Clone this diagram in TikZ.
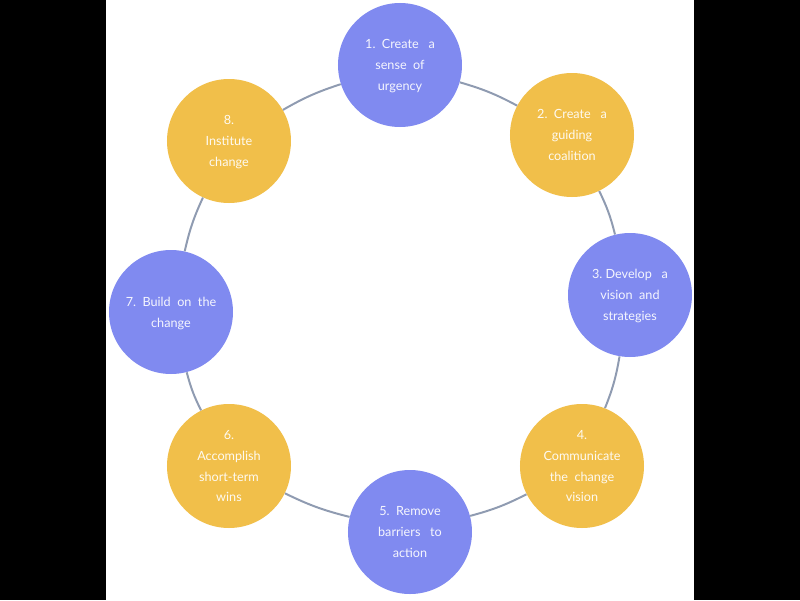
\documentclass[tikz,border=0pt]{standalone}
\usepackage{xcolor}
\usepackage{fontspec}
\setmainfont{Lato}
\usepackage{tikz}

\definecolor{stepblue}{HTML}{808AF0}
\definecolor{stepgold}{HTML}{F1BF4A}
\definecolor{ringgray}{HTML}{8F9BB1}

\begin{document}
\begin{tikzpicture}[
    stage/.style={circle, minimum size=3.1cm, inner sep=0pt, align=center, text=white,
                  text opacity=0.92, font=\fontsize{9}{14.9}\selectfont, text depth=-9pt},
    blue stage/.style={stage, fill=stepblue},
    gold stage/.style={stage, fill=stepgold},
    ring/.style={draw=ringgray, line width=1.4pt, bend left=6}
]
    \useasboundingbox (-10,-7.5) rectangle (10,7.5);
    \fill[black] (-10,-7.5) rectangle (10,7.5);
    \fill[white] (-7.35,-7.5) rectangle (7.35,7.5);

    \node[blue stage] (urg) at (0,5.875) {1.\ \ Create\ \ \ a\\sense\ \ of\\urgency};
    \node[gold stage] (coal) at (4.3,4.125) {2.\ \ Create\ \ \ a\\guiding\\coalition};
    \node[blue stage] (vis) at (5.75,0.125) {3.\ Develop\ \ \ a\\vision\ \ and\\strategies};
    \node[gold stage] (comm) at (4.55,-4.15) {4.\\Communicate\\the\ \ change\\vision};
    \node[blue stage] (barr) at (0.25,-5.8) {5.\ \ Remove\\barriers\ \ \ to\\action};
    \node[gold stage] (wins) at (-4.275,-4.15) {6.\\Accomplish\\short-term\\wins};
    \node[blue stage] (build) at (-5.725,-0.3) {7.\ \ Build\ \ on\ \ the\\change};
    \node[gold stage] (inst) at (-4.275,3.975) {8.\\Institute\\change};

    \draw[ring] (urg) to (coal);
    \draw[ring] (coal) to (vis);
    \draw[ring] (vis) to (comm);
    \draw[ring] (comm) to (barr);
    \draw[ring] (barr) to (wins);
    \draw[ring] (wins) to (build);
    \draw[ring] (build) to (inst);
    \draw[ring] (inst) to (urg);
\end{tikzpicture}
\end{document}
